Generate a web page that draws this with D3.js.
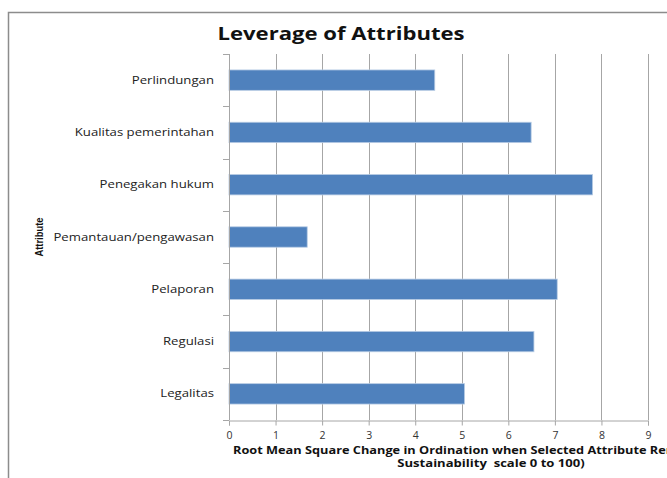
<!DOCTYPE html>
<html>
<head>
<meta charset="utf-8">
<script src="https://cdn.jsdelivr.net/npm/d3@7"></script>
<style>
  html, body { margin: 0; padding: 0; background: #fff; overflow: hidden; }
  svg { display: block; }
</style>
</head>
<body>
<svg id="chart" width="667" height="478"></svg>
<script>
// Attributes, top to bottom
const attributes = [
  "Perlindungan",
  "Kualitas pemerintahan",
  "Penegakan hukum",
  "Pemantauan/pengawasan",
  "Pelaporan",
  "Regulasi",
  "Legalitas"
];
// Root mean square change for each attribute
const rmsValues = [4.42, 6.49, 7.81, 1.68, 7.05, 6.55, 5.06];
const xTicks = [0, 1, 2, 3, 4, 5, 6, 7, 8, 9];

const chartTitle = "Leverage of Attributes";
const xTitleLines = [
  "Root Mean Square Change in Ordination when Selected Attribute Removed (on",
  "Sustainability  scale 0 to 100)"
];
const yTitle = "Attribute";

const svg = d3.select("#chart");
const plot = { left: 229, right: 648, top: 54, bottom: 420 };
const font = "'Open Sans', sans-serif";

// outer frame (left and top edges visible)
svg.append("path")
  .attr("d", "M8.5,478 L8.5,12.5 L667,12.5")
  .attr("fill", "none")
  .attr("stroke", "#8c8c8c")
  .attr("stroke-width", 1.5);

const x = d3.scaleLinear().domain([0, 9]).range([plot.left, plot.right]);
const y = d3.scaleBand().domain(attributes).range([plot.top, plot.bottom]).paddingInner(0.61).paddingOuter(0.305);
const yLines = d3.scaleBand().domain(attributes).range([plot.top, plot.bottom]);

// vertical gridlines
svg.append("g")
  .selectAll("line")
  .data(xTicks.slice(1))
  .join("line")
  .attr("x1", d => Math.round(x(d)) + 0.5)
  .attr("x2", d => Math.round(x(d)) + 0.5)
  .attr("y1", plot.top)
  .attr("y2", plot.bottom)
  .attr("stroke", "#a6a6a6")
  .attr("stroke-width", 1);

// bars
svg.append("g")
  .selectAll("rect")
  .data(attributes)
  .join("rect")
  .attr("x", x(0))
  .attr("y", d => y(d))
  .attr("width", (d, i) => x(rmsValues[i]) - x(0))
  .attr("height", y.bandwidth())
  .attr("fill", "#4f81bd")
  .attr("stroke", "#b8cce4")
  .attr("stroke-width", 0.8);

// y axis: line with ticks between categories
const yAxis = svg.append("g");
yAxis.append("line")
  .attr("x1", plot.left + 0.5).attr("x2", plot.left + 0.5)
  .attr("y1", plot.top).attr("y2", plot.bottom)
  .attr("stroke", "#a6a6a6");
const bounds = attributes.map(a => yLines(a)).concat([plot.bottom]);
yAxis.selectAll("line.tk")
  .data(bounds)
  .join("line")
  .attr("class", "tk")
  .attr("x1", plot.left - 6).attr("x2", plot.left)
  .attr("y1", d => Math.round(d) + 0.5).attr("y2", d => Math.round(d) + 0.5)
  .attr("stroke", "#a6a6a6");
yAxis.selectAll("text")
  .data(attributes)
  .join("text")
  .attr("transform", d => `translate(214,${yLines(d) + yLines.bandwidth() / 2}) scale(1.28,1)`)
  .attr("dy", "0.35em")
  .attr("text-anchor", "end")
  .attr("font-family", font)
  .attr("font-size", 10.3)
  .attr("fill", "#222")
  .text(d => d);

// x axis
const xAxis = svg.append("g")
  .attr("transform", `translate(0,${plot.bottom + 0.5})`)
  .call(d3.axisBottom(x).tickValues(xTicks).tickSize(5).tickPadding(6).tickFormat(d3.format("d")));
xAxis.select(".domain").attr("stroke", "#a6a6a6");
xAxis.selectAll(".tick line").attr("stroke", "#a6a6a6");
xAxis.selectAll(".tick text")
  .attr("font-family", font)
  .attr("font-size", 10.5)
  .attr("fill", "#333");

// chart title
svg.append("text")
  .attr("transform", "translate(341,40) scale(1.3,1)")
  .attr("text-anchor", "middle")
  .attr("font-family", font)
  .attr("font-weight", "bold")
  .attr("font-size", 17)
  .attr("fill", "#111")
  .text(chartTitle);

// x axis title: first line runs past the right edge
svg.append("text")
  .attr("transform", "translate(233,454) scale(1.17,1)")
  .attr("text-anchor", "start")
  .attr("font-family", font)
  .attr("font-weight", "bold")
  .attr("font-size", 10.9)
  .attr("fill", "#111")
  .text(xTitleLines[0]);
svg.append("text")
  .attr("transform", "translate(491,467) scale(1.2,1)")
  .attr("text-anchor", "middle")
  .attr("font-family", font)
  .attr("font-weight", "bold")
  .attr("font-size", 10.9)
  .attr("fill", "#111")
  .style("white-space", "pre")
  .text(xTitleLines[1]);

// y axis title
svg.append("text")
  .attr("transform", "translate(43,237) rotate(-90) scale(0.82,1)")
  .attr("text-anchor", "middle")
  .attr("font-family", "'Liberation Sans Narrow', 'Liberation Sans', sans-serif")
  .attr("font-weight", "bold")
  .attr("font-size", 11.5)
  .attr("fill", "#111")
  .text(yTitle);
</script>
</body>
</html>
